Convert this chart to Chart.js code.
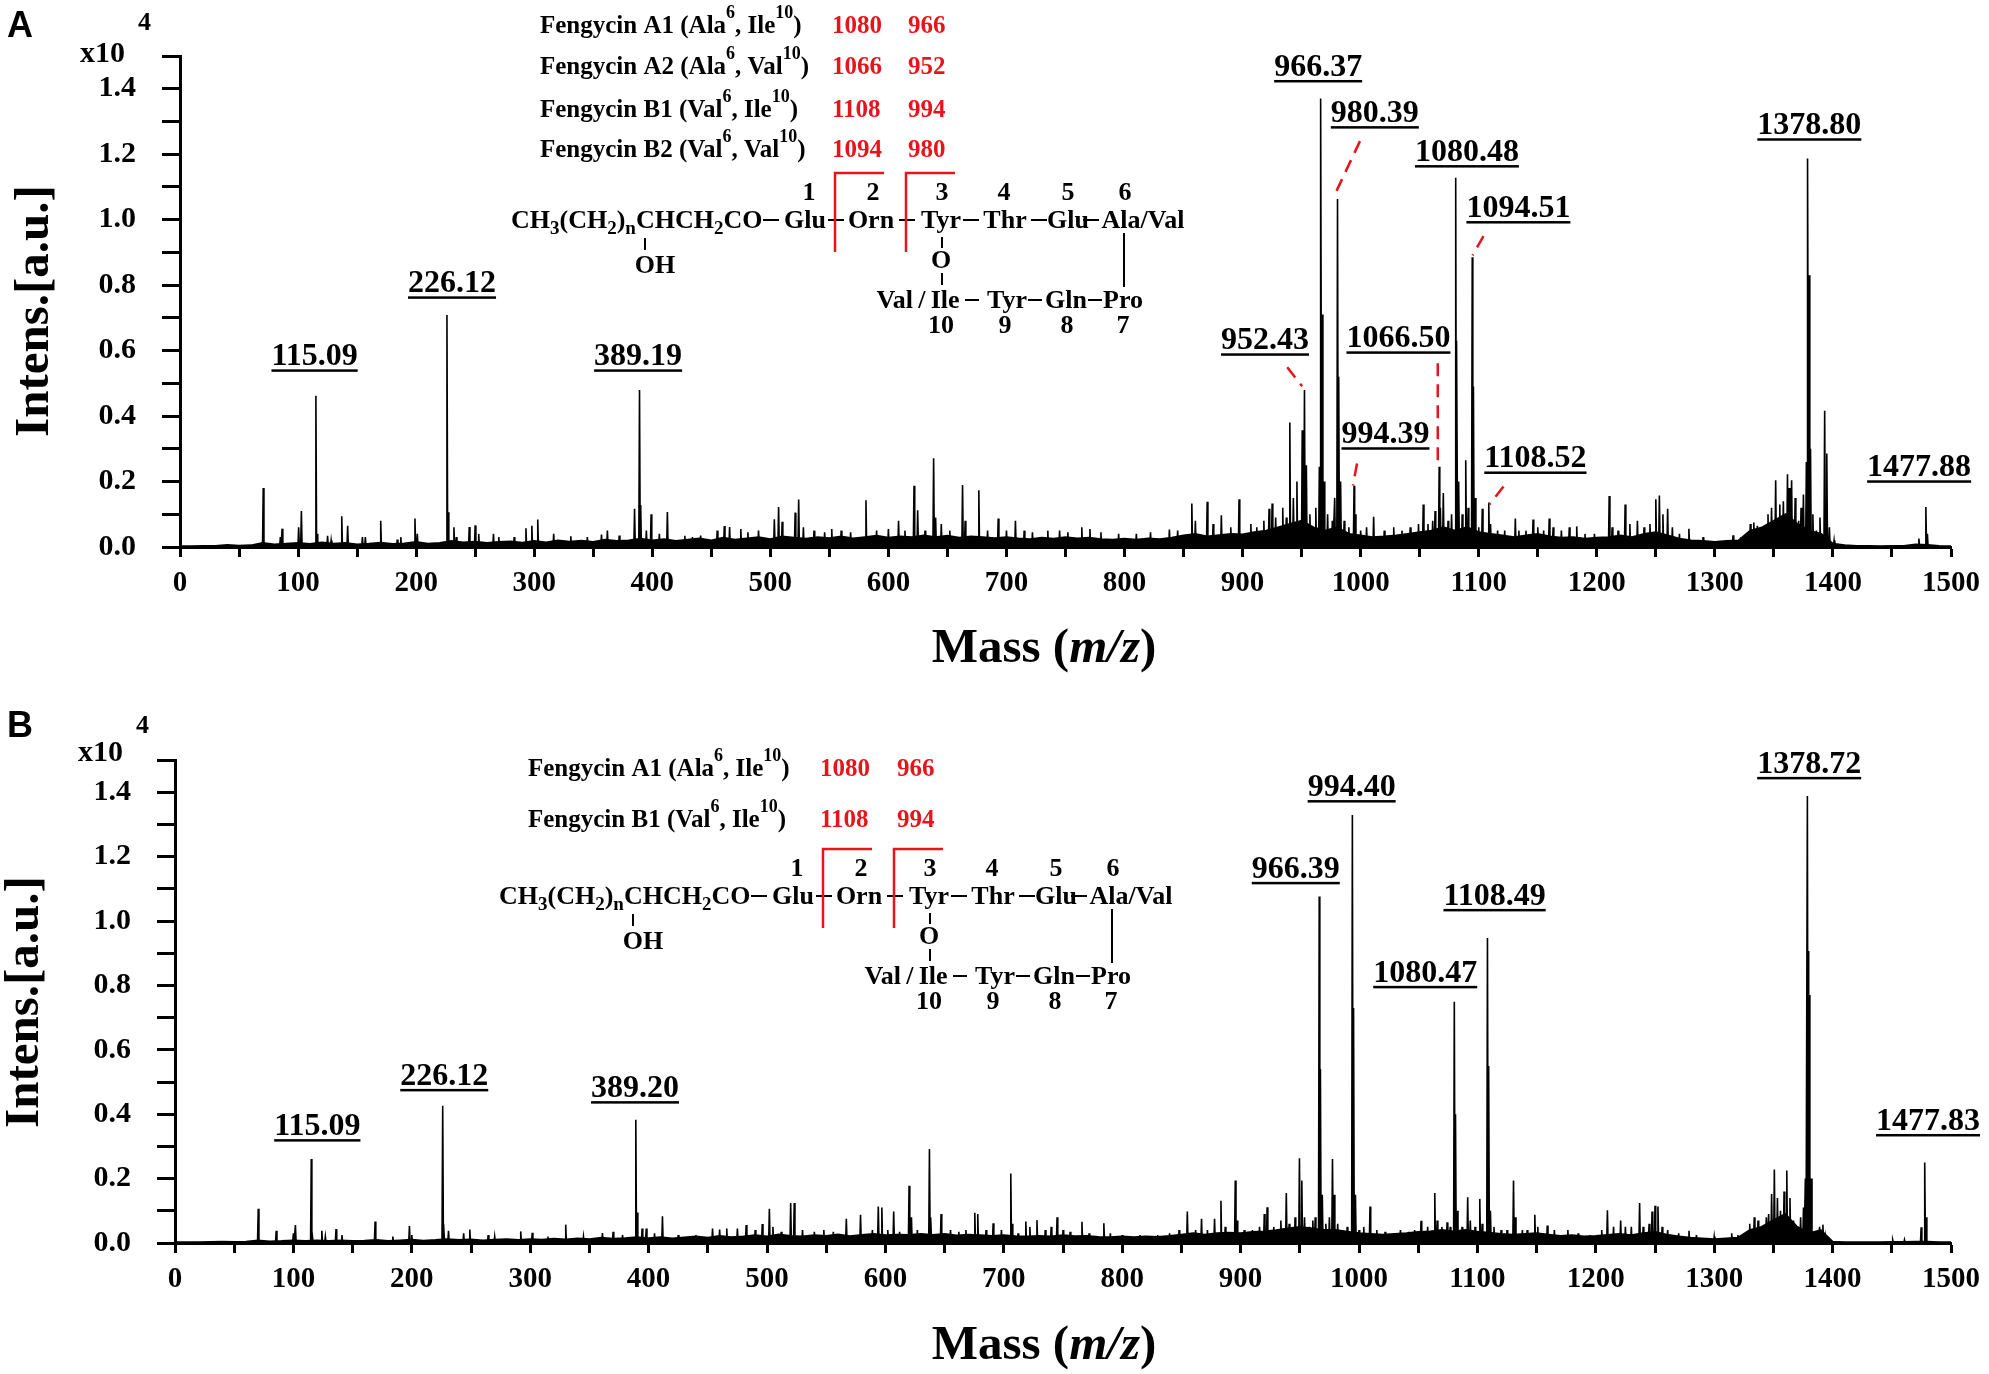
<!DOCTYPE html>
<html>
<head>
<meta charset="utf-8">
<title>Fengycin MALDI-TOF spectra</title>
<script src="https://cdn.jsdelivr.net/npm/chart.js@4.4.0/dist/chart.umd.min.js"></script>
<style>
  body { margin: 0; background: #fff; }
  #wrap { position: relative; width: 1989px; height: 1374px; }
  canvas { position: absolute; left: 0; width: 1989px; height: 687px; }
</style>
</head>
<body>
<div id="wrap">
  <canvas id="panelA" width="1989" height="687" style="top:0"></canvas>
  <canvas id="panelB" width="1989" height="687" style="top:687px"></canvas>
</div>
<script>
// ---- data (intensities in x10^4 a.u.) ----
const noiseStep = 10; // baseline read every 10 m/z, from 0 to 1500

const noiseA = [
  0.002, 0.002, 0.003, 0.003, 0.006, 0.004, 0.005, 0.012, 0.008, 0.010,
  0.012, 0.009, 0.014, 0.010, 0.012, 0.008, 0.010, 0.013, 0.009, 0.011,
  0.015, 0.010, 0.012, 0.018, 0.014, 0.016, 0.012, 0.015, 0.017, 0.013,
  0.018, 0.014, 0.020, 0.016, 0.019, 0.015, 0.022, 0.018, 0.020, 0.025,
  0.020, 0.024, 0.018, 0.022, 0.026, 0.020, 0.028, 0.022, 0.026, 0.030,
  0.024, 0.032, 0.028, 0.025, 0.030, 0.027, 0.032, 0.026, 0.030, 0.034,
  0.028, 0.032, 0.030, 0.035, 0.030, 0.034, 0.028, 0.032, 0.030, 0.027,
  0.030, 0.026, 0.024, 0.028, 0.025, 0.030, 0.026, 0.028, 0.024, 0.022,
  0.025, 0.022, 0.026, 0.024, 0.028, 0.035, 0.040, 0.032, 0.036, 0.040,
  0.038, 0.045, 0.050, 0.060, 0.070, 0.080, 0.060, 0.050, 0.060, 0.040,
  0.035, 0.030, 0.032, 0.035, 0.040, 0.045, 0.050, 0.060, 0.050, 0.060,
  0.045, 0.040, 0.035, 0.030, 0.035, 0.040, 0.032, 0.028, 0.030, 0.025,
  0.028, 0.030, 0.035, 0.030, 0.040, 0.045, 0.035, 0.025, 0.020, 0.018,
  0.015, 0.018, 0.020, 0.050, 0.060, 0.080, 0.100, 0.070, 0.050, 0.040,
  0.010, 0.005, 0.003, 0.003, 0.002, 0.003, 0.003, 0.008, 0.006, 0.003, 0.002
];

const noiseB = [
  0.002, 0.002, 0.002, 0.003, 0.004, 0.003, 0.004, 0.008, 0.005, 0.006,
  0.008, 0.006, 0.008, 0.006, 0.008, 0.006, 0.007, 0.009, 0.006, 0.008,
  0.010, 0.007, 0.009, 0.012, 0.009, 0.011, 0.008, 0.010, 0.012, 0.009,
  0.012, 0.010, 0.013, 0.011, 0.014, 0.012, 0.016, 0.013, 0.015, 0.018,
  0.015, 0.018, 0.014, 0.017, 0.020, 0.016, 0.022, 0.018, 0.020, 0.024,
  0.020, 0.026, 0.022, 0.020, 0.024, 0.022, 0.026, 0.021, 0.025, 0.028,
  0.024, 0.026, 0.025, 0.028, 0.025, 0.028, 0.023, 0.026, 0.024, 0.022,
  0.024, 0.021, 0.020, 0.022, 0.020, 0.024, 0.021, 0.022, 0.019, 0.018,
  0.020, 0.018, 0.020, 0.019, 0.022, 0.026, 0.030, 0.026, 0.030, 0.032,
  0.030, 0.034, 0.036, 0.040, 0.045, 0.050, 0.045, 0.040, 0.040, 0.035,
  0.030, 0.028, 0.026, 0.028, 0.030, 0.034, 0.036, 0.040, 0.036, 0.040,
  0.035, 0.032, 0.028, 0.026, 0.028, 0.030, 0.026, 0.022, 0.024, 0.020,
  0.022, 0.025, 0.028, 0.024, 0.030, 0.034, 0.026, 0.020, 0.016, 0.014,
  0.012, 0.014, 0.016, 0.040, 0.050, 0.070, 0.090, 0.050, 0.030, 0.040,
  0.004, 0.002, 0.002, 0.002, 0.002, 0.003, 0.003, 0.004, 0.004, 0.002, 0.002
];

// [m/z, intensity]
const peaksA = [
  [70.5,0.18],[85,0.03],[86.5,0.056],[100.5,0.06],[102.8,0.11],[115.1,0.462],[116.1,0.04],[125,0.034],
  [128,0.02],[137,0.094],[142,0.065],[154.5,0.03],[157,0.03],[170,0.08],[184,0.023],[187,0.03],
  [199,0.087],[201,0.04],[226.1,0.709],[227.1,0.106],[232,0.06],[234,0.03],[245,0.061],[250,0.066],
  [253,0.04],[265.5,0.04],[270,0.03],[283,0.03],[293,0.057],[298,0.065],[303,0.084],[316.5,0.04],
  [331,0.033],[345,0.03],[357,0.038],[362,0.05],[372,0.035],[385,0.117],[389.2,0.48],[390.2,0.128],
  [395,0.05],[399,0.1],[406,0.04],[412.8,0.107],[427.6,0.034],[434,0.03],[441,0.035],[455,0.05],
  [461,0.064],[465.5,0.061],[475,0.055],[481,0.045],[490,0.05],[503.4,0.085],[507,0.122],[510,0.077],
  [521,0.105],[524,0.145],[528,0.06],[537,0.05],[546,0.045],[552,0.055],[560,0.05],[568,0.045],
  [581,0.143],[590,0.05],[600,0.055],[608.6,0.08],[614,0.05],[621.7,0.187],[624.8,0.112],[631,0.05],
  [638.3,0.271],[640,0.09],[644.8,0.07],[652,0.05],[662.8,0.189],[665,0.08],[676.6,0.173],[684,0.05],
  [693,0.087],[700,0.05],[707.6,0.08],[715,0.05],[722,0.045],[735,0.05],[745,0.05],[752,0.045],
  [763.8,0.06],[770.7,0.055],[780,0.045],[795,0.04],[810,0.04],[822,0.045],[838,0.053],[845,0.05],
  [857,0.133],[860,0.08],[870,0.138],[875,0.07],[882,0.097],[890,0.06],[897,0.146],[907,0.07],
  [912,0.06],[918,0.08],[922.4,0.117],[925,0.133],[928,0.09],[934,0.12],[937,0.09],[940,0.38],
  [943,0.15],[946,0.2],[950.5,0.357],[952.4,0.48],[954,0.25],[957,0.1],[962,0.12],[965,0.245],
  [966.4,1.37],[967.4,0.71],[969,0.2],[972,0.1],[976,0.08],[978,0.15],[980.4,1.063],[981.4,0.52],
  [983,0.2],[986,0.08],[990,0.06],[994.4,0.187],[995.4,0.1],[1000,0.05],[1005,0.06],[1011,0.092],
  [1020,0.05],[1028,0.06],[1035,0.05],[1042,0.06],[1049,0.07],[1053,0.13],[1057,0.07],[1061,0.08],
  [1063,0.11],[1066.5,0.245],[1067.5,0.12],[1070,0.165],[1074,0.08],[1077,0.1],[1080.5,1.128],[1081.5,0.63],
  [1083,0.2],[1086,0.1],[1089,0.265],[1091,0.12],[1094.5,0.885],[1095.5,0.49],[1097,0.15],[1100,0.06],
  [1103,0.117],[1108.5,0.136],[1110,0.07],[1116,0.05],[1122,0.05],[1131,0.087],[1134,0.05],[1140,0.05],
  [1146,0.084],[1150,0.06],[1155,0.05],[1159.7,0.087],[1163,0.06],[1170,0.05],[1176.7,0.06],[1183,0.063],
  [1190,0.04],[1198,0.04],[1210.5,0.156],[1213,0.06],[1218,0.05],[1224,0.13],[1228,0.07],[1234.4,0.08],
  [1240,0.06],[1245,0.07],[1250,0.146],[1253,0.157],[1256,0.1],[1260,0.117],[1264,0.06],[1270,0.04],
  [1278,0.056],[1290,0.03],[1315.4,0.036],[1322,0.03],[1330,0.07],[1333,0.075],[1336,0.065],[1342,0.06],
  [1345,0.1],[1348,0.12],[1351.5,0.204],[1355,0.13],[1358,0.14],[1361.5,0.222],[1363,0.18],[1365,0.204],
  [1368,0.15],[1371,0.08],[1373,0.12],[1375,0.16],[1377.5,0.26],[1378.8,1.187],[1379.8,0.83],[1381,0.3],
  [1383,0.1],[1386,0.05],[1389,0.09],[1393,0.416],[1394.8,0.286],[1397,0.06],[1401,0.02],[1472.8,0.026],
  [1478.7,0.122],[1480,0.04]
];

const peaksB = [
  [70.3,0.106],[85.5,0.038],[100,0.03],[101.7,0.056],[115.1,0.261],[116.1,0.02],[124,0.038],[127,0.02],
  [136,0.043],[141,0.025],[169,0.067],[184,0.02],[198,0.053],[200,0.025],[226.1,0.426],[227.1,0.06],
  [231,0.038],[243.8,0.03],[249,0.042],[264.5,0.025],[270,0.02],[292,0.036],[301.7,0.032],[315,0.02],
  [330,0.057],[345,0.02],[361,0.031],[370,0.035],[378,0.025],[389.2,0.383],[390.3,0.095],[394.5,0.045],
  [398,0.045],[405,0.03],[411.7,0.083],[425,0.025],[440,0.025],[454,0.045],[460,0.042],[466,0.045],
  [475,0.045],[482.4,0.056],[490,0.04],[496,0.059],[502,0.106],[505,0.05],[512,0.035],[520,0.124],
  [523,0.124],[530,0.04],[540,0.035],[548,0.04],[556,0.035],[567,0.075],[579,0.088],[589,0.04],
  [594,0.113],[597,0.11],[602,0.04],[607,0.098],[612,0.035],[620,0.178],[622,0.08],[627,0.04],
  [637.2,0.292],[638.5,0.08],[647,0.09],[655,0.04],[662,0.035],[668,0.04],[675.5,0.094],[678,0.09],
  [685,0.04],[691,0.061],[698,0.04],[705.9,0.216],[707,0.06],[712,0.03],[718.6,0.067],[722,0.05],
  [728,0.071],[735,0.04],[740,0.05],[745,0.08],[750,0.04],[756,0.035],[766,0.066],[772,0.03],
  [784.5,0.061],[790,0.03],[800,0.025],[815,0.025],[830,0.025],[840,0.03],[848,0.04],[855,0.098],
  [862,0.04],[867,0.075],[872,0.04],[878,0.075],[883.4,0.131],[887,0.05],[895.5,0.194],[897,0.07],
  [903,0.04],[910,0.04],[916,0.05],[920,0.09],[922.4,0.111],[928,0.05],[934,0.07],[938.6,0.155],
  [941,0.06],[946,0.08],[949.7,0.263],[951.7,0.194],[954,0.08],[958,0.05],[961,0.07],[963,0.08],
  [966.4,1.076],[967.4,0.54],[969,0.15],[972,0.06],[975,0.08],[977.6,0.261],[979,0.15],[982,0.06],
  [986,0.04],[990,0.05],[994.4,1.329],[995.4,0.73],[997,0.15],[1000,0.04],[1004,0.05],[1009.3,0.113],
  [1015,0.04],[1022,0.035],[1030,0.03],[1035,0.04],[1042,0.035],[1047,0.04],[1052.4,0.069],[1058,0.05],
  [1064,0.155],[1066,0.07],[1070,0.05],[1074.4,0.064],[1077,0.05],[1080.5,0.749],[1081.5,0.4],[1083,0.1],
  [1087,0.05],[1091.8,0.142],[1094,0.07],[1098,0.05],[1102,0.137],[1104,0.06],[1108.5,0.947],[1109.5,0.55],
  [1111,0.1],[1114,0.05],[1120,0.04],[1125,0.04],[1130.5,0.194],[1132,0.08],[1138,0.04],[1142,0.04],
  [1148.5,0.088],[1151,0.05],[1159,0.054],[1165,0.04],[1176.4,0.04],[1185,0.03],[1195,0.025],[1205,0.04],
  [1209.8,0.102],[1215,0.05],[1221,0.07],[1225,0.05],[1230,0.05],[1237,0.124],[1240,0.05],[1245,0.06],
  [1247.5,0.098],[1250,0.116],[1252.5,0.113],[1256,0.05],[1260.7,0.04],[1270,0.03],[1278.7,0.038],[1285,0.025],
  [1300,0.02],[1314.8,0.03],[1320,0.025],[1330,0.06],[1333.8,0.08],[1337,0.07],[1341,0.05],[1344,0.08],
  [1346,0.09],[1348.5,0.152],[1350.8,0.228],[1353.4,0.14],[1356,0.1],[1359,0.16],[1361.3,0.225],[1364,0.14],
  [1367,0.07],[1371,0.05],[1373,0.08],[1375.4,0.11],[1377,0.2],[1378.7,1.388],[1379.4,0.907],[1380.2,0.77],
  [1382,0.2],[1384,0.03],[1389,0.05],[1391.8,0.057],[1394,0.02],[1450.8,0.009],[1460.7,0.01],[1474.8,0.049],
  [1477.8,0.25],[1479,0.08]
];

const labelTextA = ['115.09','226.12','389.19','966.37','980.39','1080.48','1094.51','952.43','1066.50','994.39','1108.52','1378.80','1477.88'];
const labelTextB = ['115.09','226.12','389.20','966.39','994.40','1080.47','1108.49','1378.72','1477.83'];

// fengycin variants: [name, residue 6, residue 10, m/z 1, m/z 2]
const variantsA = [['A1','Ala','Ile','1080','966'],['A2','Ala','Val','1066','952'],['B1','Val','Ile','1108','994'],['B2','Val','Val','1094','980']];
const variantsB = [['A1','Ala','Ile','1080','966'],['B1','Val','Ile','1108','994']];

const xTicks = { min: 0, max: 1500, step: 50, labelEvery: 100 };
const yTicks = { min: 0, max: 1.5, step: 0.1 };

// ---- helpers ----
const SERIF = '"Liberation Serif", "Times New Roman", serif';
const RED = '#e8141c';

function sticks(peaks) {
  const pts = [];
  peaks.slice().sort((a, b) => a[0] - b[0]).forEach(([mz, h]) => {
    pts.push({ x: mz - 0.6, y: 0 }, { x: mz, y: h }, { x: mz + 0.6, y: 0 });
  });
  return pts;
}

function underlined(ctx, text, cx, base) {
  ctx.textAlign = 'center';
  ctx.fillText(text, cx, base);
  const w = ctx.measureText(text).width;
  ctx.fillRect(cx - w / 2, base + 4, w, 2.5);
}

function runs(ctx, x, y, parts) {
  // parts: [text, font, dy]
  ctx.textAlign = 'left';
  parts.forEach(([t, f, dy]) => {
    ctx.font = f;
    ctx.fillText(t, x, y + dy);
    x += ctx.measureText(t).width;
  });
  return x;
}

function seg(ctx, x1, y1, x2, y2) {
  ctx.beginPath();
  ctx.moveTo(x1, y1);
  ctx.lineTo(x2, y2);
  ctx.stroke();
}

function drawVariants(ctx, t, rows) {
  const f = 'bold 25px ' + SERIF, sup = 'bold 18px ' + SERIF;
  rows.forEach((r, i) => {
    const y = t.rows[i];
    ctx.fillStyle = '#000';
    runs(ctx, t.x, y, [
      ['Fengycin ' + r[0] + ' (' + r[1], f, 0], ['6', sup, -15],
      [', ' + r[2], f, 0], ['10', sup, -15], [')', f, 0]
    ]);
    ctx.fillStyle = RED;
    ctx.font = f;
    ctx.textAlign = 'left';
    ctx.fillText(r[3], t.red1, y);
    ctx.fillText(r[4], t.red2, y);
  });
}

function drawStructure(ctx, ox, oy) {
  const f = 'bold 26px ' + SERIF, sub = 'bold 19px ' + SERIF;
  ctx.fillStyle = '#000';
  ctx.strokeStyle = '#000';
  ctx.lineWidth = 2;
  runs(ctx, ox, oy, [
    ['CH', f, 0], ['3', sub, 6], ['(CH', f, 0], ['2', sub, 6], [')', f, 0], ['n', sub, 6],
    ['CHCH', f, 0], ['2', sub, 6], ['CO', f, 0]
  ]);
  ctx.font = f;
  ctx.textAlign = 'center';
  [['Glu', 294], ['Orn', 360], ['Tyr', 430], ['Thr', 494], ['Glu', 557], ['Ala/Val', 632]]
    .forEach(([t, dx]) => ctx.fillText(t, ox + dx, oy));
  [['Val\u2009/\u2009Ile', 407], ['Tyr', 496], ['Gln', 555], ['Pro', 612]]
    .forEach(([t, dx]) => ctx.fillText(t, ox + dx, oy + 80));
  [['1', 298], ['2', 362], ['3', 431], ['4', 493], ['5', 557], ['6', 614]]
    .forEach(([t, dx]) => ctx.fillText(t, ox + dx, oy - 28));
  [['10', 430], ['9', 494], ['8', 556], ['7', 612]]
    .forEach(([t, dx]) => ctx.fillText(t, ox + dx, oy + 105));
  ctx.fillText('OH', ox + 144, oy + 45);
  ctx.fillText('O', ox + 430, oy + 40);
  // bonds
  [260, 325, 396, 460, 528, 580].forEach(dx => seg(ctx, ox + dx - 8, oy - 8, ox + dx + 8, oy - 8));
  [461, 524, 584].forEach(dx => seg(ctx, ox + dx - 7, oy + 72, ox + dx + 7, oy + 72));
  seg(ctx, ox + 134, oy + 10, ox + 134, oy + 22);
  seg(ctx, ox + 431, oy + 9, ox + 431, oy + 20);
  seg(ctx, ox + 431, oy + 45, ox + 431, oy + 57);
  seg(ctx, ox + 613, oy + 5, ox + 613, oy + 59);
  // cleavage brackets
  ctx.strokeStyle = RED;
  ctx.lineWidth = 2.5;
  [[324, 373], [395, 444]].forEach(([a, b]) => {
    ctx.beginPath();
    ctx.moveTo(ox + a, oy + 24);
    ctx.lineTo(ox + a, oy - 55);
    ctx.lineTo(ox + b, oy - 55);
    ctx.stroke();
  });
}

function annotate(cfg) {
  return {
    id: 'annotate',
    afterDraw(chart) {
      const ctx = chart.ctx, xs = chart.scales.x, ys = chart.scales.y;
      ctx.save();
      ctx.textBaseline = 'alphabetic';
      ctx.fillStyle = '#000';

      // panel letter and exponent
      ctx.font = 'bold 36px "Liberation Sans", Arial, sans-serif';
      ctx.textAlign = 'left';
      ctx.fillText(cfg.letter, cfg.letterPos[0], cfg.letterPos[1]);
      ctx.font = 'bold 30px ' + SERIF;
      ctx.fillText('x10', cfg.exp[0], cfg.exp[1]);
      ctx.font = 'bold 26px ' + SERIF;
      ctx.fillText('4', cfg.exp[2], cfg.exp[3]);

      // axis titles
      ctx.save();
      ctx.translate(cfg.yTitle[0], cfg.yTitle[1]);
      ctx.rotate(-Math.PI / 2);
      ctx.font = 'bold 49px ' + SERIF;
      ctx.textAlign = 'center';
      ctx.textBaseline = 'middle';
      ctx.fillText('Intens.[a.u.]', 0, 0);
      ctx.restore();

      const tf = 'bold 49px ' + SERIF, ti = 'italic bold 49px ' + SERIF;
      ctx.font = tf;
      let w = ctx.measureText('Mass ()').width;
      ctx.font = ti;
      w += ctx.measureText('m/z').width;
      runs(ctx, cfg.xTitle[0] - w / 2, cfg.xTitle[1], [['Mass (', tf, 0], ['m/z', ti, 0], [')', tf, 0]]);

      // peak labels
      ctx.font = 'bold 32px ' + SERIF;
      cfg.labels.forEach(([mz, v], i) => {
        underlined(ctx, cfg.labelText[i], xs.getPixelForValue(mz), ys.getPixelForValue(v));
      });

      // red leader lines
      ctx.strokeStyle = RED;
      ctx.lineWidth = 2.5;
      ctx.setLineDash([13, 8]);
      cfg.leaders.forEach(([x1, y1, x2, y2]) => {
        seg(ctx, xs.getPixelForValue(x1), ys.getPixelForValue(y1), xs.getPixelForValue(x2), ys.getPixelForValue(y2));
      });
      ctx.setLineDash([]);

      drawVariants(ctx, cfg.table, cfg.variants);
      drawStructure(ctx, cfg.structure[0], cfg.structure[1]);
      ctx.restore();
    }
  };
}

function makeChart(id, noise, peaks, cfg) {
  const yFont = { family: SERIF, weight: 'bold', size: 30 };
  const xFont = { family: SERIF, weight: 'bold', size: 29 };
  return new Chart(document.getElementById(id), {
    type: 'line',
    data: {
      datasets: [
        { data: noise.map((v, i) => ({ x: i * noiseStep, y: v })), borderColor: '#000', borderWidth: 2,
          pointRadius: 0, fill: 'origin', backgroundColor: '#000' },
        { data: sticks(peaks), borderColor: '#000', borderWidth: 1.6, pointRadius: 0 }
      ]
    },
    options: {
      responsive: false,
      animation: false,
      devicePixelRatio: 1,
      parsing: false,
      elements: { line: { tension: 0 } },
      layout: { padding: cfg.padding },
      plugins: { legend: { display: false }, tooltip: { enabled: false }, filler: { propagate: false } },
      scales: {
        x: {
          type: 'linear',
          min: xTicks.min, max: xTicks.max,
          afterFit: s => { s.height = 60; },
          border: { display: true, color: '#000', width: 3 },
          grid: { drawOnChartArea: false, drawTicks: true, tickLength: 10, tickWidth: 3, tickColor: '#000' },
          ticks: {
            stepSize: xTicks.step, autoSkip: false, maxRotation: 0, color: '#000', font: xFont, padding: 9,
            callback: v => (v % xTicks.labelEvery === 0 ? String(v) : '')
          }
        },
        y: {
          min: yTicks.min, max: yTicks.max,
          afterFit: s => { s.width = cfg.yWidth; },
          border: { display: true, color: '#000', width: 3 },
          grid: { drawOnChartArea: false, drawTicks: true, tickLength: 18, tickWidth: 3, tickColor: '#000' },
          ticks: {
            stepSize: yTicks.step, autoSkip: false, color: '#000', font: yFont, padding: 26,
            callback: v => (Math.round(v * 10) % 2 === 0 ? v.toFixed(1) : '')
          }
        }
      }
    },
    plugins: [annotate(cfg)]
  });
}

// ---- layout of each panel (pixels inside its canvas) ----
makeChart('panelA', noiseA, peaksA, {
  padding: { left: 0, top: 56, right: 32, bottom: 80 },
  yWidth: 180,
  letter: 'A', letterPos: [7, 37], exp: [80, 62, 138, 30],
  yTitle: [35, 311], xTitle: [1044, 662],
  labelText: labelTextA,
  labels: [[114,0.555],[230.4,0.778],[388,0.555],[964,1.439],[1012,1.298],[1090,1.179],[1133.6,1.008],
           [919,0.604],[1032,0.61],[1021,0.317],[1148,0.243],[1380,1.261],[1473,0.216]],
  leaders: [[999.4,1.24,977.5,1.072],[1104,0.95,1094.8,0.891],[937.8,0.549,950.4,0.491],
            [996.9,0.255,993.5,0.188],[1065.3,0.561,1065.3,0.255],[1121,0.185,1109,0.13]],
  table: { x: 540, red1: 832, red2: 908, rows: [33, 74, 117, 157] },
  variants: variantsA,
  structure: [511, 228]
});

makeChart('panelB', noiseB, peaksB, {
  padding: { left: 0, top: 73, right: 36, bottom: 71 },
  yWidth: 175,
  letter: 'B', letterPos: [7, 50], exp: [78, 74, 136, 46],
  yTitle: [25, 315], xTitle: [1044, 672],
  labelText: labelTextB,
  labels: [[120.2,0.335],[227.4,0.491],[388.5,0.453],[946.6,1.134],[993.8,1.388],[1055.9,0.811],
           [1114.5,1.05],[1380.2,1.46],[1480.6,0.351]],
  leaders: [],
  table: { x: 528, red1: 820, red2: 897, rows: [89, 140] },
  variants: variantsB,
  structure: [499, 217]
});
</script>
</body>
</html>
